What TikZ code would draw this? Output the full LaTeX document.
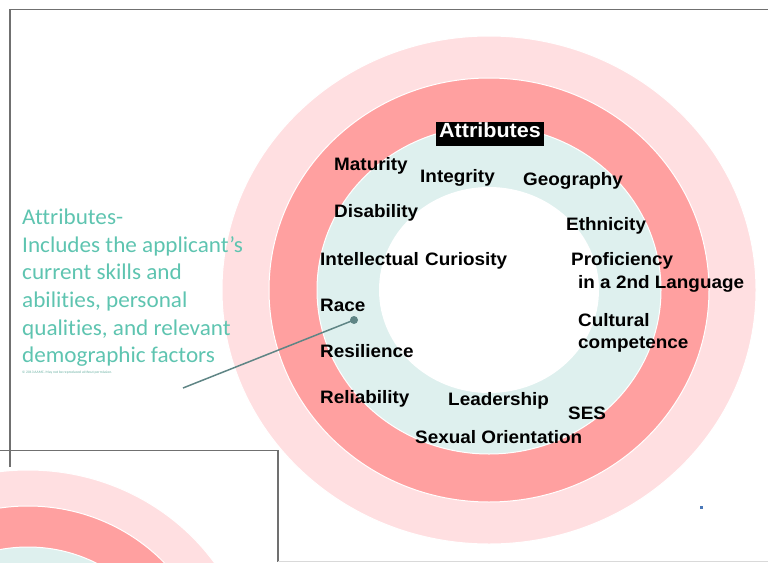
\documentclass[tikz,border=0pt]{standalone}
\usepackage{fontspec}
\setmainfont{Liberation Sans}
\newfontfamily\lblfont{Liberation Sans}[FakeStretch=1.05]
\newfontfamily\carl{Carlito}[Ligatures=NoCommon, FakeStretch=1.03]
\definecolor{ringOuter}{HTML}{FFDFE1}
\definecolor{ringRed}{HTML}{FFA0A0}
\definecolor{ringTeal}{HTML}{DEF0EE}
\definecolor{sideTeal}{HTML}{5EC4B0}
\definecolor{frameGray}{HTML}{707070}
\definecolor{pointerGray}{HTML}{5F8585}
\definecolor{dotBlue}{HTML}{4A78B8}
\tikzset{
  ringsep/.style={draw=white, line width=1pt},
  lbl/.style={anchor=west, inner sep=0pt, text height=0.72em, text depth=0pt,
    font=\lblfont\bfseries\fontsize{18}{18}\selectfont, text=black},
  side/.style={anchor=west, inner sep=0pt, text height=0.64em, text depth=0pt,
    font=\carl\fontsize{22.5}{24}\selectfont, text=sideTeal},
  frame/.style={draw=frameGray, line width=1.6pt},
}
\begin{document}
\begin{tikzpicture}[x=1pt,y=-1pt]
\useasboundingbox (0,0) rectangle (768,562);
\begin{scope}
\clip (0,0) rectangle (768,562);
% small partial diagram bottom-left
\fill[ringOuter, ringsep] (28,686) ellipse [x radius=227pt, y radius=216pt];
\fill[ringRed, ringsep] (28,686) ellipse [x radius=187pt, y radius=180pt];
\fill[ringTeal, ringsep] (28,686) ellipse [x radius=146pt, y radius=139pt];
% frames
\draw[frame] (10,467) -- (10,9.5) -- (768,9.5);
\draw[frame] (0,450.5) -- (278,450.5) -- (278,562);
\draw[black!15, line width=1pt] (278,561.5) -- (768,561.5);
% main rings
\fill[ringOuter, ringsep] (489,290) ellipse [x radius=267pt, y radius=254pt];
\fill[ringRed, ringsep] (489,290) ellipse [x radius=220pt, y radius=212pt];
\fill[ringTeal, ringsep] (489,290) ellipse [x radius=172pt, y radius=164pt];
\fill[white] (489,290) ellipse [x radius=110pt, y radius=103pt];
\end{scope}

% title
\node[fill=black, text=white, inner xsep=3pt, inner ysep=0pt, minimum height=24pt,
  text height=0.72em, text depth=0pt,
  font=\lblfont\bfseries\fontsize{20.5}{21}\selectfont] (title) at (490,134) {Attributes};

% labels
\node[lbl] (maturity) at (334,167) {Maturity};
\node[lbl] (integrity) at (420,179) {Integrity};
\node[lbl] (geography) at (523,182) {Geography};
\node[lbl] (disability) at (334,214) {Disability};
\node[lbl] (ethnicity) at (566,227) {Ethnicity};
\node[lbl] (intellectual) at (320,262) {Intellectual};
\node[lbl] (curiosity) at (425,262) {Curiosity};
\node[lbl] (proficiency) at (571,262) {Proficiency};
\node[lbl] (language) at (578,285) {in a 2nd Language};
\node[lbl] (race) at (320,308) {Race};
\node[lbl] (cultural) at (578,323) {Cultural};
\node[lbl] (competence) at (578,345) {competence};
\node[lbl] (resilience) at (320,354) {Resilience};
\node[lbl] (reliability) at (320,400) {Reliability};
\node[lbl] (leadership) at (448,402) {Leadership};
\node[lbl] (ses) at (568,416) {SES};
\node[lbl] (sexual) at (415,440) {Sexual Orientation};

% side description
\node[side] (s1) at (22,221) {Attributes-};
\node[side] (s2) at (22,249) {Includes the applicant’s};
\node[side] (s3) at (22,276) {current skills and};
\node[side] (s4) at (22,304) {abilities, personal};
\node[side] (s5) at (22,332) {qualities, and relevant};
\node[side] (s6) at (22,359) {demographic factors};
\node[anchor=west, inner sep=0pt, text=sideTeal!70!gray, font=\carl\fontsize{3.6}{4}\selectfont] (copy) at (22,373)
  {© 2013 AAMC. May not be reproduced without permission.};

% pointer
\coordinate (pstart) at (183,388);
\node[circle, fill=pointerGray, inner sep=0pt, minimum size=8pt] (rdot) at (354,320) {};
\draw[pointerGray, line width=1.5pt] (pstart) -- (rdot.center);

% small blue mark
\node[rectangle, fill=dotBlue, inner sep=0pt, minimum size=3pt] (bluemark) at (701,507) {};
\end{tikzpicture}
\end{document}
